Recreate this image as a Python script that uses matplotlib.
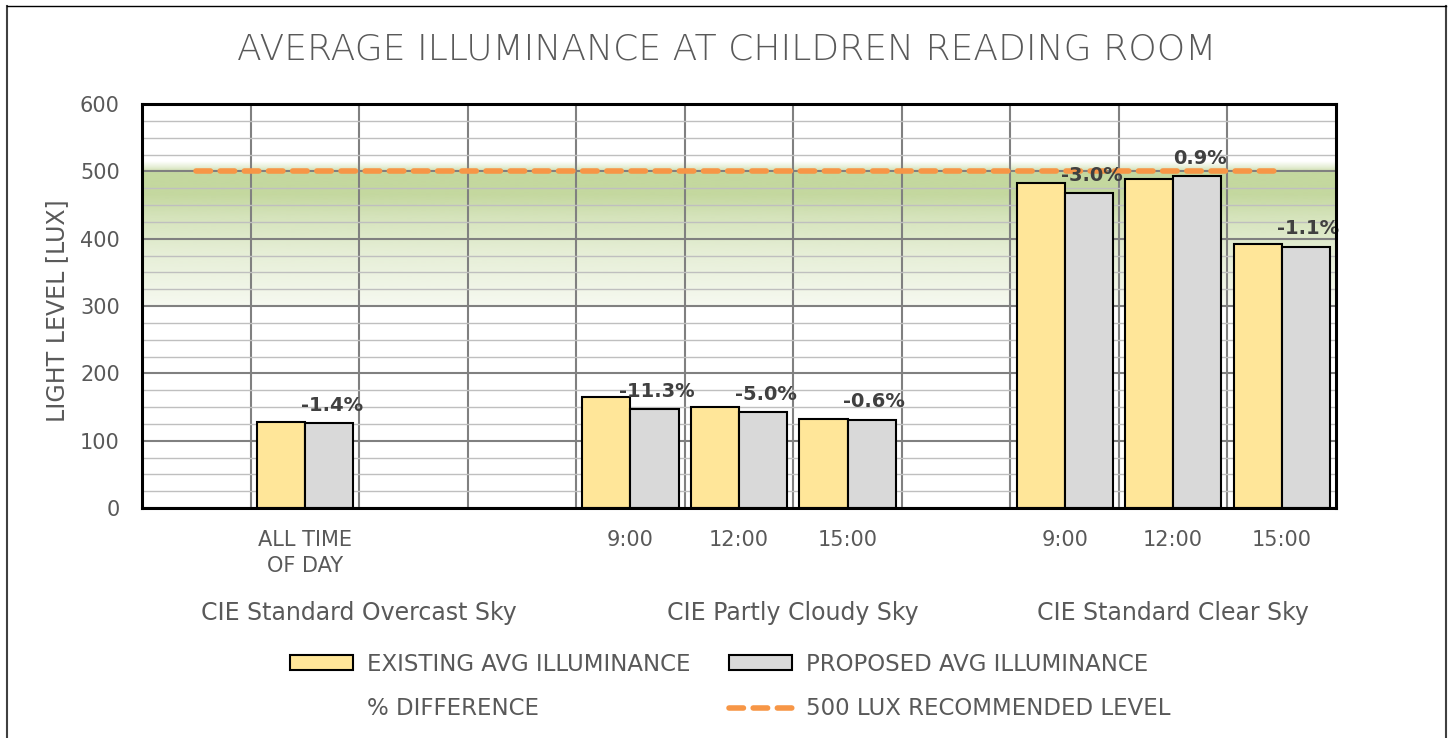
import numpy as np
import matplotlib
matplotlib.use("Agg")
import matplotlib.pyplot as plt
from matplotlib.patches import Patch
from matplotlib.lines import Line2D
from matplotlib.transforms import blended_transform_factory

# ---- data -------------------------------------------------------------
categories = ["", "ALL TIME\nOF DAY", "", "", "9:00", "12:00", "15:00", "",
              "9:00", "12:00", "15:00"]
existing_lux = [np.nan, 127.7, np.nan, np.nan, 165.3, 149.5, 131.7, np.nan,
                482.0, 488.5, 392.5]
proposed_lux = [np.nan, 126.0, np.nan, np.nan, 146.6, 142.0, 130.9, np.nan,
                467.5, 492.9, 388.2]
pct_difference = [np.nan, -1.4, np.nan, np.nan, -11.3, -5.0, -0.6, np.nan,
                  -3.0, 0.9, -1.1]
recommended_lux = 500
sky_names = ["CIE Standard Overcast Sky", "CIE Partly Cloudy Sky",
             "CIE Standard Clear Sky"]
sky_first_slot = [0, 4, 8]
sky_last_slot = [3, 7, 10]
y_ticks = [0, 100, 200, 300, 400, 500, 600]

# ---- styling ----------------------------------------------------------
TEXT = "#595959"
YELLOW = "#ffe699"
GREY = "#d9d9d9"
ORANGE = "#f79646"
GREEN = np.array([196, 216, 159]) / 255.0
plt.rcParams["font.family"] = ["DejaVu Sans"]

W, H = 1448, 738
fig = plt.figure(figsize=(W / 100, H / 100), dpi=100)
fig.patch.set_facecolor("white")

ax = fig.add_axes([142 / W, (H - 508) / H, (1336 - 142) / W, (508 - 104) / H])
n = len(categories)
x = np.arange(n)
ax.set_xlim(-0.5, n - 0.5)
ax.set_ylim(0, 600)

# recommended-range shading behind the grid
band_v = np.linspace(300, 514, 500)
band_alpha = np.interp(band_v, [300, 313, 382, 432, 465, 497, 505, 514],
                       [0.15, 0.2, 0.44, 0.71, 1.0, 1.0, 0.45, 0.0])
rgba = np.zeros((len(band_v), 1, 4))
rgba[:, 0, :3] = GREEN
rgba[:, 0, 3] = band_alpha
ax.imshow(rgba, origin="lower", aspect="auto",
          extent=[-0.5, n - 0.5, 300, 514], zorder=0.2, interpolation="bilinear")

# grid
ax.set_yticks(y_ticks)
ax.set_yticks(np.arange(0, 601, 25), minor=True)
ax.set_axisbelow(True)
ax.grid(which="major", axis="y", color="#808080", lw=1.5, zorder=0.5)
ax.grid(which="minor", axis="y", color="#bfbfbf", lw=1.0, zorder=0.4)
for b in x[:-1] + 0.5:
    ax.axvline(b, color="#808080", lw=1.5, zorder=0.5)

# bars
bw = 0.443
ex = np.array(existing_lux)
pr = np.array(proposed_lux)
m = ~np.isnan(ex)
ax.bar(x[m] - bw / 2, ex[m], bw, color=YELLOW, edgecolor="black", lw=1.5, zorder=2)
ax.bar(x[m] + bw / 2, pr[m], bw, color=GREY, edgecolor="black", lw=1.5, zorder=2)

# recommended level
DASH_LW = 4.0
DASHES = [2.6, 1.75]
rec_line, = ax.plot(x, [recommended_lux] * n, color=ORANGE, lw=DASH_LW,
                    dash_capstyle="round", zorder=3)
rec_line.set_dashes(DASHES)

# percent difference labels
for xi, p, v in zip(x, pct_difference, pr):
    if np.isnan(p):
        continue
    ax.annotate(f"{p:.1f}%", (xi + bw / 2, v), xytext=(2, 13),
                textcoords="offset points", ha="center", va="center",
                fontsize=14, fontweight="bold", color="#404040", zorder=4)

# axes styling
for s in ax.spines.values():
    s.set_color("black")
    s.set_linewidth(2.2)
    s.set_zorder(5)
ax.set_xticks(x)
ax.set_xticklabels(categories, linespacing=1.35)
ax.tick_params(axis="both", which="both", length=0, labelsize=15,
               labelcolor=TEXT)
ax.tick_params(axis="x", pad=16)
ax.tick_params(axis="y", pad=16)

# sky group labels
trans = blended_transform_factory(ax.transData, fig.transFigure)
for name, a, b in zip(sky_names, sky_first_slot, sky_last_slot):
    ax.text((a + b) / 2, 1 - 613 / H, name, transform=trans, ha="center",
            va="center", fontsize=17, color=TEXT)

# titles
fig.text(727 / W, 1 - 50 / H, "AVERAGE ILLUMINANCE AT CHILDREN READING ROOM",
         ha="center", va="center", fontsize=26, color=TEXT, fontweight="light")
fig.text(57 / W, 1 - 311 / H, "LIGHT LEVEL [LUX]", rotation=90,
         ha="center", va="center", fontsize=17, color=TEXT)

# legend
h_ex = Patch(facecolor=YELLOW, edgecolor="black", lw=1.5)
h_pr = Patch(facecolor=GREY, edgecolor="black", lw=1.5)
h_pct = Line2D([], [], lw=0)
h_rec = Line2D([], [], color=ORANGE, lw=DASH_LW, dash_capstyle="round",
               dashes=DASHES)
fig.legend([h_ex, h_pct, h_pr, h_rec],
           ["EXISTING AVG ILLUMINANCE", "% DIFFERENCE",
            "PROPOSED AVG ILLUMINANCE", "500 LUX RECOMMENDED LEVEL"],
           ncol=2, loc="center", bbox_to_anchor=(730 / W, 1 - 686.5 / H),
           frameon=False, fontsize=16.5, labelcolor=TEXT, handlelength=2.75,
           handleheight=0.6, labelspacing=0.95, columnspacing=1.7,
           handletextpad=0.6)

# outer chart border
fig.add_artist(Line2D([7 / W, 7 / W], [0, 1 - 6 / H], transform=fig.transFigure,
                      color="#404040", lw=1.5))
fig.add_artist(Line2D([1446 / W, 1446 / W], [0, 1 - 6 / H],
                      transform=fig.transFigure, color="#404040", lw=1.5))
fig.add_artist(Line2D([7 / W, 1446 / W], [1 - 6 / H, 1 - 6 / H],
                      transform=fig.transFigure, color="black", lw=1.0))

fig.savefig("out.png", dpi=100)
